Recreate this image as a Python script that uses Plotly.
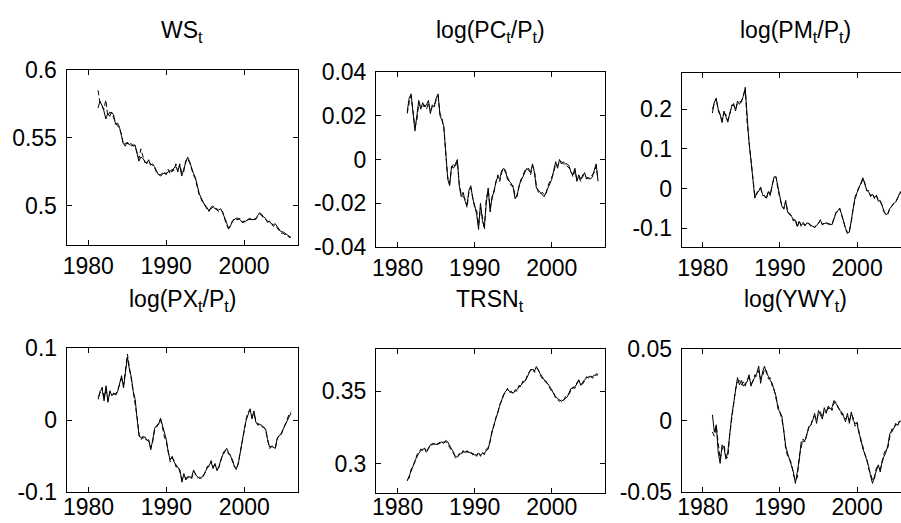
import plotly.graph_objects as go

# ---------------- data (quarterly, 1981Q2 .. 2006Q1) ----------------
t_start = 1981.25
n_obs = 100
time = [t_start + 0.25 * k for k in range(n_obs)]

ws_actual = [
    0.572, 0.577, 0.574,
    0.570, 0.564, 0.568, 0.566,
    0.569, 0.567, 0.560, 0.561,
    0.558, 0.552, 0.546, 0.544,
    0.547, 0.545, 0.546, 0.544,
    0.545, 0.539, 0.533, 0.536,
    0.535, 0.533, 0.531, 0.534,
    0.530, 0.531, 0.529, 0.526,
    0.523, 0.523, 0.524, 0.524,
    0.524, 0.525, 0.526, 0.525,
    0.528, 0.529, 0.526, 0.530,
    0.522, 0.527, 0.531, 0.536,
    0.533, 0.528, 0.524, 0.521,
    0.515, 0.509, 0.506, 0.503,
    0.500, 0.499, 0.496, 0.499,
    0.500, 0.498, 0.498, 0.497,
    0.498, 0.495, 0.492, 0.488,
    0.483, 0.485, 0.489, 0.490,
    0.491, 0.491, 0.490, 0.488,
    0.488, 0.489, 0.490, 0.490,
    0.490, 0.490, 0.490, 0.493,
    0.495, 0.494, 0.492, 0.491,
    0.488, 0.489, 0.487, 0.486,
    0.487, 0.485, 0.483, 0.481,
    0.481, 0.480, 0.479, 0.478,
    0.477,
]
ws_fitted = [
    0.585, 0.576, 0.574,
    0.571, 0.578, 0.566, 0.569,
    0.568, 0.565, 0.561, 0.559,
    0.557, 0.553, 0.545, 0.546,
    0.546, 0.546, 0.544, 0.545,
    0.544, 0.540, 0.535, 0.542,
    0.536, 0.532, 0.532, 0.533,
    0.531, 0.530, 0.528, 0.525,
    0.524, 0.522, 0.523, 0.525,
    0.523, 0.527, 0.524, 0.527,
    0.526, 0.531, 0.525, 0.531,
    0.524, 0.525, 0.533, 0.535,
    0.532, 0.527, 0.523, 0.520,
    0.514, 0.508, 0.505, 0.502,
    0.501, 0.497, 0.497, 0.498,
    0.499, 0.499, 0.497, 0.496,
    0.497, 0.496, 0.491, 0.486,
    0.484, 0.486, 0.488, 0.491,
    0.490, 0.490, 0.491, 0.488,
    0.489, 0.488, 0.490, 0.491,
    0.490, 0.490, 0.491, 0.492,
    0.494, 0.493, 0.491, 0.490,
    0.489, 0.488, 0.488, 0.485,
    0.486, 0.484, 0.482, 0.480,
    0.480, 0.479, 0.479, 0.477,
    0.477,
]

pc_actual = [
    0.022, 0.028, 0.030,
    0.021, 0.013, 0.020, 0.027,
    0.023, 0.026, 0.024, 0.025,
    0.027, 0.021, 0.025, 0.024,
    0.028, 0.030, 0.020, 0.018,
    0.015, 0.002, -0.009, -0.012,
    -0.003, -0.004, -0.002, 0.000,
    -0.012, -0.017, -0.015, -0.019,
    -0.021, -0.014, -0.012, -0.018,
    -0.021, -0.025, -0.032, -0.020,
    -0.028, -0.031, -0.020, -0.013,
    -0.024, -0.017, -0.015, -0.010,
    -0.008, -0.009, -0.005, -0.004,
    -0.005, -0.009, -0.010, -0.011,
    -0.013, -0.018, -0.016, -0.013,
    -0.009, -0.008, -0.006, -0.004,
    -0.005, -0.006, -0.002, -0.006,
    -0.013, -0.014, -0.015, -0.016,
    -0.017, -0.015, -0.013, -0.011,
    -0.009, -0.005, -0.001, -0.004,
    0.000, -0.002, -0.001, -0.002,
    -0.002, -0.003, -0.006, -0.007,
    -0.004, -0.010, -0.007, -0.009,
    -0.008, -0.006, -0.009, -0.008,
    -0.009, -0.008, -0.005, -0.002,
    -0.010,
]
pc_fitted = [
    0.021, 0.026, 0.029,
    0.023, 0.015, 0.018, 0.026,
    0.024, 0.024, 0.025, 0.023,
    0.026, 0.022, 0.024, 0.025,
    0.027, 0.029, 0.021, 0.019,
    0.014, 0.003, -0.008, -0.011,
    -0.004, -0.002, -0.003, -0.001,
    -0.011, -0.016, -0.017, -0.018,
    -0.022, -0.015, -0.013, -0.017,
    -0.022, -0.023, -0.030, -0.022,
    -0.026, -0.032, -0.018, -0.014,
    -0.022, -0.018, -0.014, -0.011,
    -0.007, -0.010, -0.006, -0.004,
    -0.006, -0.008, -0.010, -0.012,
    -0.012, -0.017, -0.017, -0.012,
    -0.010, -0.007, -0.005, -0.005,
    -0.004, -0.007, -0.003, -0.005,
    -0.012, -0.015, -0.016, -0.015,
    -0.016, -0.016, -0.012, -0.010,
    -0.008, -0.006, -0.002, -0.003,
    -0.001, -0.001, -0.002, -0.003,
    -0.003, -0.004, -0.005, -0.008,
    -0.005, -0.009, -0.008, -0.010,
    -0.007, -0.007, -0.008, -0.009,
    -0.008, -0.007, -0.006, -0.003,
    -0.009,
]

pm_actual = [
    0.190, 0.218, 0.225,
    0.200, 0.187, 0.166, 0.195,
    0.180, 0.167, 0.190, 0.206,
    0.214, 0.195, 0.220, 0.212,
    0.218, 0.232, 0.252, 0.170,
    0.115, 0.070, 0.014, -0.024,
    -0.010, -0.007, 0.004, -0.015,
    -0.020, -0.024, -0.008, -0.015,
    0.008, 0.030, 0.028, 0.000,
    -0.020, -0.045, -0.050, -0.032,
    -0.060, -0.062, -0.070, -0.078,
    -0.080, -0.095, -0.083, -0.092,
    -0.088, -0.094, -0.086, -0.090,
    -0.092, -0.095, -0.097, -0.093,
    -0.086, -0.080, -0.090, -0.088,
    -0.086, -0.090, -0.089, -0.091,
    -0.074, -0.062, -0.055, -0.051,
    -0.065, -0.085, -0.100, -0.110,
    -0.110, -0.080, -0.050, -0.020,
    -0.010, 0.000, 0.014, 0.027,
    0.010, -0.004, -0.008, -0.018,
    -0.015, -0.022, -0.018, -0.032,
    -0.030, -0.045, -0.057, -0.066,
    -0.062, -0.050, -0.043, -0.038,
    -0.033, -0.025, -0.012, -0.006,
    0.000,
]
pm_fitted = [
    0.200, 0.212, 0.228,
    0.196, 0.182, 0.172, 0.188,
    0.186, 0.172, 0.185, 0.210,
    0.210, 0.200, 0.215, 0.218,
    0.220, 0.230, 0.255, 0.165,
    0.118, 0.065, 0.018, -0.020,
    -0.014, -0.004, 0.001, -0.018,
    -0.017, -0.026, -0.005, -0.018,
    0.010, 0.026, 0.030, -0.004,
    -0.024, -0.042, -0.052, -0.030,
    -0.058, -0.066, -0.068, -0.082,
    -0.076, -0.098, -0.080, -0.095,
    -0.085, -0.092, -0.088, -0.087,
    -0.095, -0.092, -0.099, -0.090,
    -0.088, -0.078, -0.092, -0.085,
    -0.088, -0.087, -0.092, -0.088,
    -0.076, -0.060, -0.058, -0.049,
    -0.068, -0.082, -0.103, -0.113,
    -0.106, -0.084, -0.047, -0.024,
    -0.008, 0.004, 0.010, 0.025,
    0.014, -0.006, -0.005, -0.020,
    -0.012, -0.025, -0.016, -0.030,
    -0.033, -0.042, -0.060, -0.064,
    -0.064, -0.048, -0.045, -0.036,
    -0.035, -0.023, -0.014, -0.004,
    0.002,
]

px_actual = [
    0.029, 0.041, 0.043,
    0.027, 0.048, 0.025, 0.041,
    0.034, 0.038, 0.035, 0.040,
    0.052, 0.062, 0.045, 0.066,
    0.088, 0.071, 0.060, 0.040,
    0.029, 0.001, -0.022, -0.024,
    -0.025, -0.023, -0.028, -0.027,
    -0.041, -0.027, -0.011, -0.007,
    -0.006, 0.003, -0.008, -0.020,
    -0.027, -0.045, -0.055, -0.050,
    -0.058, -0.062, -0.066, -0.069,
    -0.086, -0.074, -0.083, -0.078,
    -0.079, -0.079, -0.069, -0.076,
    -0.078, -0.081, -0.079, -0.078,
    -0.071, -0.066, -0.062, -0.058,
    -0.067, -0.060, -0.070, -0.064,
    -0.055, -0.048, -0.044, -0.039,
    -0.045, -0.050, -0.055, -0.065,
    -0.067, -0.060, -0.043, -0.030,
    -0.013, 0.000, 0.010, 0.016,
    0.002, 0.013, -0.003, -0.005,
    -0.006, -0.007, -0.009, -0.012,
    -0.027, -0.037, -0.036, -0.037,
    -0.039, -0.024, -0.022, -0.018,
    -0.012, -0.008, 0.000, 0.006,
    0.010,
]
px_fitted = [
    0.033, 0.038, 0.046,
    0.030, 0.044, 0.028, 0.039,
    0.036, 0.036, 0.037, 0.042,
    0.050, 0.058, 0.049, 0.068,
    0.092, 0.074, 0.056, 0.037,
    0.025, 0.004, -0.020, -0.027,
    -0.022, -0.026, -0.027, -0.030,
    -0.038, -0.030, -0.013, -0.010,
    -0.004, 0.001, -0.010, -0.023,
    -0.030, -0.042, -0.058, -0.052,
    -0.056, -0.065, -0.064, -0.072,
    -0.082, -0.078, -0.080, -0.080,
    -0.077, -0.081, -0.071, -0.074,
    -0.080, -0.079, -0.081, -0.076,
    -0.073, -0.064, -0.064, -0.056,
    -0.064, -0.062, -0.067, -0.066,
    -0.057, -0.046, -0.042, -0.041,
    -0.047, -0.048, -0.058, -0.063,
    -0.069, -0.058, -0.045, -0.028,
    -0.015, 0.002, 0.012, 0.014,
    0.005, 0.010, -0.001, -0.007,
    -0.005, -0.009, -0.010, -0.013,
    -0.025, -0.039, -0.037, -0.035,
    -0.038, -0.026, -0.020, -0.020,
    -0.013, -0.006, 0.002, 0.008,
    0.012,
]

trsn_actual = [
    0.288, 0.291, 0.295,
    0.298, 0.302, 0.305, 0.307,
    0.309, 0.310, 0.310, 0.309,
    0.310, 0.313, 0.313, 0.314,
    0.313, 0.314, 0.314, 0.315,
    0.314, 0.316, 0.315, 0.312,
    0.310, 0.308, 0.304, 0.305,
    0.306, 0.307, 0.308, 0.308,
    0.308, 0.308, 0.307, 0.307,
    0.306, 0.306, 0.307, 0.306,
    0.307, 0.307, 0.309, 0.310,
    0.316, 0.322, 0.327, 0.331,
    0.336, 0.340, 0.344, 0.347,
    0.350, 0.351, 0.350, 0.349,
    0.349, 0.350, 0.351, 0.353,
    0.354, 0.356, 0.357, 0.359,
    0.362, 0.365, 0.365, 0.364,
    0.367, 0.364, 0.362, 0.360,
    0.358, 0.356, 0.355, 0.353,
    0.351, 0.348, 0.346, 0.345,
    0.344, 0.343, 0.344, 0.345,
    0.346, 0.349, 0.352, 0.352,
    0.353, 0.355, 0.358, 0.354,
    0.356, 0.358, 0.359, 0.360,
    0.360, 0.360, 0.361, 0.361,
    0.362,
]
trsn_fitted = [
    0.289, 0.290, 0.296,
    0.299, 0.301, 0.306, 0.308,
    0.310, 0.309, 0.311, 0.307,
    0.311, 0.312, 0.314, 0.313,
    0.314, 0.313, 0.315, 0.314,
    0.315, 0.315, 0.314, 0.311,
    0.309, 0.307, 0.305, 0.304,
    0.307, 0.306, 0.309, 0.307,
    0.309, 0.307, 0.308, 0.306,
    0.307, 0.305, 0.308, 0.305,
    0.308, 0.306, 0.310, 0.311,
    0.315, 0.323, 0.326, 0.332,
    0.335, 0.341, 0.343, 0.348,
    0.349, 0.352, 0.349, 0.350,
    0.348, 0.351, 0.350, 0.354,
    0.353, 0.357, 0.356, 0.360,
    0.363, 0.364, 0.366, 0.363,
    0.366, 0.365, 0.361, 0.359,
    0.357, 0.357, 0.354, 0.352,
    0.350, 0.349, 0.345, 0.344,
    0.343, 0.344, 0.343, 0.346,
    0.347, 0.348, 0.351, 0.353,
    0.352, 0.356, 0.357, 0.355,
    0.355, 0.357, 0.360, 0.359,
    0.361, 0.359, 0.360, 0.362,
    0.361,
]

ywy_actual = [
    0.004, -0.008, -0.003,
    -0.022, -0.030, -0.017, -0.019,
    -0.027, -0.022, -0.007, 0.003,
    0.012, 0.020, 0.030, 0.025,
    0.028, 0.024, 0.026, 0.027,
    0.032, 0.024, 0.028, 0.030,
    0.033, 0.038, 0.026, 0.034,
    0.038, 0.033, 0.031, 0.028,
    0.026, 0.021, 0.017, 0.008,
    0.006, 0.003, -0.009, -0.018,
    -0.023, -0.028, -0.032, -0.036,
    -0.044, -0.035, -0.028, -0.015,
    -0.015, -0.014, -0.009, -0.005,
    -0.003, 0.000, 0.005, -0.002,
    0.007, 0.004, 0.001, 0.009,
    0.005, 0.010, 0.008, 0.009,
    0.014, 0.012, 0.010, 0.007,
    0.006, 0.003, -0.001, 0.005,
    -0.002, 0.006, 0.000, -0.002,
    -0.002, -0.009, -0.013, -0.020,
    -0.023, -0.028, -0.032, -0.039,
    -0.044, -0.039, -0.035, -0.031,
    -0.036, -0.028, -0.025, -0.022,
    -0.017, -0.009, -0.008, -0.005,
    -0.003, -0.003, -0.001, 0.000,
    0.001,
]
ywy_fitted = [
    -0.008, -0.011, -0.004,
    -0.018, -0.027, -0.020, -0.017,
    -0.025, -0.026, -0.010, 0.000,
    0.010, 0.022, 0.027, 0.028,
    0.025, 0.027, 0.024, 0.029,
    0.030, 0.026, 0.027, 0.032,
    0.031, 0.035, 0.029, 0.031,
    0.036, 0.035, 0.029, 0.030,
    0.024, 0.022, 0.015, 0.010,
    0.004, 0.001, -0.007, -0.020,
    -0.025, -0.027, -0.030, -0.038,
    -0.042, -0.040, -0.025, -0.018,
    -0.013, -0.015, -0.010, -0.004,
    -0.004, 0.002, 0.003, 0.000,
    0.005, 0.006, 0.002, 0.007,
    0.007, 0.008, 0.010, 0.007,
    0.012, 0.013, 0.009, 0.008,
    0.004, 0.004, 0.001, 0.003,
    0.000, 0.004, 0.002, -0.004,
    -0.001, -0.007, -0.015, -0.018,
    -0.024, -0.026, -0.034, -0.037,
    -0.042, -0.041, -0.033, -0.032,
    -0.034, -0.030, -0.023, -0.020,
    -0.019, -0.011, -0.006, -0.006,
    -0.002, -0.004, 0.000, -0.001,
    0.001,
]

titles = [
    "WS<sub>t</sub>",
    "log(PC<sub>t</sub>/P<sub>t</sub>)",
    "log(PM<sub>t</sub>/P<sub>t</sub>)",
    "log(PX<sub>t</sub>/P<sub>t</sub>)",
    "TRSN<sub>t</sub>",
    "log(YWY<sub>t</sub>)",
]
x_ticks = [1980, 1990, 2000]
x_tick_labels = ["1980", "1990", "2000"]
y_ticks = [
    [0.5, 0.55, 0.6],
    [-0.04, -0.02, 0, 0.02, 0.04],
    [-0.1, 0, 0.1, 0.2],
    [-0.1, 0, 0.1],
    [0.3, 0.35],
    [-0.05, 0, 0.05],
]
y_tick_labels = [
    ["0.5", "0.55", "0.6"],
    ["-0.04", "-0.02", "0", "0.02", "0.04"],
    ["-0.1", "0", "0.1", "0.2"],
    ["-0.1", "0", "0.1"],
    ["0.3", "0.35"],
    ["-0.05", "0", "0.05"],
]
y_ranges = [
    [0.4713, 0.6],
    [-0.04, 0.04],
    [-0.147, 0.292],
    [-0.1, 0.1],
    [0.280, 0.3795],
    [-0.05, 0.05],
]
series = [
    (ws_actual, ws_fitted),
    (pc_actual, pc_fitted),
    (pm_actual, pm_fitted),
    (px_actual, px_fitted),
    (trsn_actual, trsn_fitted),
    (ywy_actual, ywy_fitted),
]

# ---------------- layout geometry (pixels) ----------------
W, H = 901, 523
boxes = [  # x0, x1, ytop, ybottom in pixels
    (66.5, 297.5, 70.0, 245.0),
    (376.0, 605.0, 72.0, 247.0),
    (681.7, 901.0, 72.5, 247.0),
    (66.7, 297.7, 348.3, 492.3),
    (376.0, 605.0, 348.5, 492.5),
    (681.7, 901.0, 349.0, 492.0),
]
x_ranges = [
    [1977.2, 2006.87],
    [1977.2, 2006.9],
    [1977.27, 2005.69],
    [1977.2, 2006.87],
    [1977.2, 2006.9],
    [1977.27, 2005.69],
]
clipped_right = [False, False, True, False, False, True]

FONT = "Liberation Sans, Arial, Helvetica, sans-serif"
FS = 23
fig = go.Figure()
layout = dict(
    width=W, height=H,
    margin=dict(l=0, r=0, t=0, b=0, autoexpand=False),
    paper_bgcolor="white", plot_bgcolor="white",
    showlegend=False,
    font=dict(family=FONT, size=FS, color="black"),
)

annotations = []
for i in range(6):
    n = i + 1
    xa = "x" if n == 1 else f"x{n}"
    ya = "y" if n == 1 else f"y{n}"
    act, fit = series[i]
    fig.add_trace(go.Scatter(x=time, y=act, mode="lines", xaxis=xa, yaxis=ya,
                             line=dict(color="black", width=1)))
    fig.add_trace(go.Scatter(x=time, y=fit, mode="lines", xaxis=xa, yaxis=ya,
                             line=dict(color="black", width=1, dash="5px,3px")))
    x0, x1, yt, yb = boxes[i]
    xkey = "xaxis" if n == 1 else f"xaxis{n}"
    ykey = "yaxis" if n == 1 else f"yaxis{n}"
    layout[xkey] = dict(
        domain=[x0 / W, x1 / W], anchor=ya, range=x_ranges[i],
        tickmode="array", tickvals=x_ticks, ticktext=x_tick_labels,
        ticks="inside", ticklen=5, tickcolor="black", tickwidth=1,
        showline=True, linecolor="black", linewidth=1, mirror="ticks",
        showgrid=False, zeroline=False, automargin=False,
        tickfont=dict(family=FONT, size=FS, color="black"),
        ticklabelstandoff=0 if i < 3 else -6,
    )
    layout[ykey] = dict(
        domain=[1 - yb / H, 1 - yt / H], anchor=xa, range=y_ranges[i],
        tickmode="array", tickvals=y_ticks[i], ticktext=y_tick_labels[i],
        ticks="inside", ticklen=5, tickcolor="black", tickwidth=1,
        showline=True, linecolor="black", linewidth=1,
        mirror=False if clipped_right[i] else "ticks",
        showgrid=False, zeroline=False, automargin=False,
        tickfont=dict(family=FONT, size=FS, color="black"),
        ticklabelstandoff=4,
    )
    cx = ((x0 + x1) / 2 if not clipped_right[i] else (x0 + 909.0) / 2) / W
    ty = 31.0 if i < 3 else 300.0
    annotations.append(dict(
        text=titles[i], x=cx, y=1 - ty / H, xref="paper", yref="paper",
        xanchor="center", yanchor="middle", showarrow=False,
        font=dict(family=FONT, size=FS, color="black"),
    ))

layout["annotations"] = annotations
fig.update_layout(**layout)
fig.write_html("out.html")
